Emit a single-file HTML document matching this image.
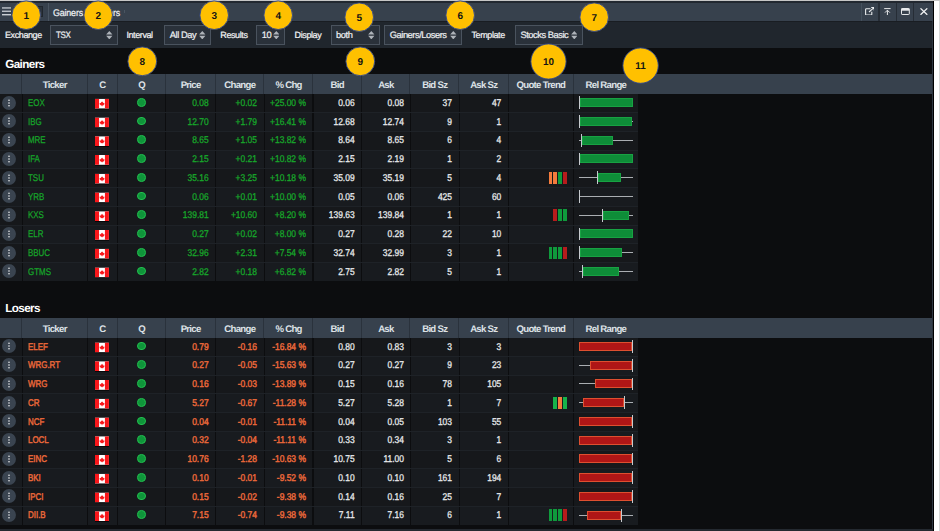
<!DOCTYPE html><html><head><meta charset="utf-8"><title>Gainers / Losers</title><style>
*{box-sizing:border-box;margin:0;padding:0}
html,body{width:940px;height:531px;overflow:hidden}
body{position:relative;text-rendering:geometricPrecision;-webkit-text-stroke:0.22px;background:#0c0d0f;font-family:"Liberation Sans",sans-serif;font-size:9px;color:#e6e8ea}
div{position:absolute}
.topline{left:0;top:0;width:940px;height:1px;background:#c6c6c6}
.white{left:933.9px;top:1px;width:6.1px;height:530px;background:#fff;border-right:1.9px solid #d9d9d9}
.blk{left:932.9px;top:1px;width:1px;height:530px;background:#000}
.tbar{left:0;top:1px;width:933px;height:19.7px;background:#37414d}
.tbar2{left:0;top:1px;width:933px;height:1.6px;background:#222830}
.tool{left:0;top:20.7px;width:932px;height:27.2px;background:#20262d;border-top:0.9px solid #191d22}
.redge{left:931.8px;top:20.7px;width:1.2px;height:511px;background:#2e3640}
.bband{left:0;top:528.6px;width:933px;height:2.4px;background:#242930}
.lbl{top:25.4px;height:20px;line-height:20px;color:#f2f3f4;white-space:nowrap;letter-spacing:-0.4px;font-size:9px}
.sel{top:25px;height:19.9px;border:1px solid #4a535e;background:#2a313a;line-height:19.6px;color:#eceef0;white-space:nowrap;letter-spacing:-0.45px;font-size:9.3px;padding-left:4.6px}
.sel svg{position:absolute;right:4.4px;top:4.8px;width:6.6px;height:8.4px}
.sec{-webkit-text-stroke:0;left:5.2px;font-weight:bold;font-size:11.7px;letter-spacing:-0.6px;color:#fff;white-space:nowrap;height:14px;line-height:14px}
.hdr{left:0;width:931.9px;background:#37414d}
.hs{width:1px;background:#2a323c}
.ht{-webkit-text-stroke:0;text-align:center;color:#dde1e6;font-weight:bold;font-size:9.6px;letter-spacing:-0.7px;white-space:nowrap}
.row{left:0;width:638.4px;height:18.75px}
.cs{width:1.2px;background:#0c0d0f}
.rs{left:0;width:638.4px;height:1px;background:#1e2227}
.mb{width:14.2px;height:14.2px;border-radius:50%;background:#3a4450}
.mb i{position:absolute;left:6.4px;width:1.4px;height:1.4px;background:#fff;border-radius:50%}
.mb i:nth-child(1){top:3.5px}.mb i:nth-child(2){top:6.4px}.mb i:nth-child(3){top:9.3px}
.tk{height:18.75px;line-height:19.1px;white-space:nowrap;font-size:9.8px;-webkit-text-stroke:0.25px;transform:scaleX(0.81);transform-origin:0 0}
.mbs{position:absolute;width:16px;height:16px}
.flw{width:13.9px;height:9.8px;box-shadow:0 0.7px 0 rgba(0,0,0,0.8)}
.fl{display:block;width:13.9px;height:9.8px}
.dot{width:8.6px;height:8.6px;border-radius:50%;background:#0f953a;border:1px solid #22bf4f}
.num{height:18.75px;line-height:19.1px;text-align:right;white-space:nowrap;font-size:9.8px;-webkit-text-stroke:0.3px;transform:scaleX(0.86);transform-origin:100% 0}
.lz{-webkit-text-stroke:0.45px}
.qt{width:3.7px;height:12.4px}
.ln{left:579px;width:53.7px;height:1px;background:#aaaeb2}
.tick{width:1px;height:12.6px;background:#c6cace}
.brg{height:9px;background:#0e8d38;border:1px solid #18a243}
.brl{height:9px;background:#b01616;border:1px solid #de4f30}
.ycs{position:absolute;overflow:visible}
.ti{top:1px;height:19.7px}
.tsep{top:2.8px;width:1.2px;height:17.9px;background:#262d36}
</style></head><body>
<div class="tbar"></div><div class="tbar2"></div><div class="tool"></div>
<svg style="position:absolute;left:1.9px;top:7.3px;width:9.2px;height:8.8px" viewBox="0 0 92 88"><g fill="#c9ced4"><rect y="3" width="92" height="13"/><rect y="36" width="92" height="13"/><rect y="70" width="92" height="14"/></g></svg>
<div style="left:32px;top:5.7px;width:10.6px;height:11.8px;border:1.2px solid #20262d;background:#2b333d"></div>
<div style="left:47.6px;top:2.8px;width:1px;height:17.9px;background:#4a5561"></div>
<div style="left:53.4px;top:3.6px;height:19.7px;line-height:19.7px;font-size:9.6px;letter-spacing:-0.2px;word-spacing:2.4px;transform:scaleX(0.93);transform-origin:0 0;color:#eef0f2;white-space:nowrap">Gainers / Losers</div>
<div style="left:124.2px;top:10.4px;width:1px;height:2.6px;background:#4a5561"></div>
<div style="left:860.6px;top:2.8px;width:1px;height:17.9px;background:#44505c"></div>
<div class="tsep" style="left:878.4px"></div>
<div class="tsep" style="left:896.3px"></div>
<div class="tsep" style="left:913.0px"></div>
<svg style="position:absolute;left:864.6px;top:6.8px;width:9.8px;height:8.6px" viewBox="0 0 98 86" fill="none" stroke="#e8eaec" stroke-width="11"><path d="M55 18H14q-8 0-8 8v46q0 8 8 8h46q8 0 8-8V48"/><path d="M40 50L90 6M62 5h30v30" stroke-linejoin="miter"/></svg>
<svg style="position:absolute;left:884.4px;top:7.7px;width:6.8px;height:7.4px" viewBox="0 0 68 74" fill="none" stroke="#e8eaec" stroke-width="10"><path d="M2 6h64M34 74V24M10 46l24-24 24 24"/></svg>
<svg style="position:absolute;left:901.2px;top:7.8px;width:8.8px;height:7px" viewBox="0 0 88 70" fill="none" stroke="#e8eaec"><rect x="5" y="5" width="78" height="60" rx="6" stroke-width="10"/><path d="M5 16h78" stroke-width="22"/></svg>
<svg style="position:absolute;left:919.8px;top:7.9px;width:7.8px;height:7.2px" viewBox="0 0 78 72" fill="none" stroke="#f2f3f4" stroke-width="13"><path d="M5 4l68 64M73 4L5 68"/></svg>
<div class="lbl" style="left:5px">Exchange</div>
<div class="sel" style="left:50.1px;width:67.8px"><span style="display:inline-block;transform:scaleX(0.86);transform-origin:0 50%">TSX</span><svg viewBox="0 0 60 80"><path fill="#aeb3b9" d="M30 0L60 34H0zM30 80L0 46h60z"/></svg></div>
<div class="lbl" style="left:126.4px">Interval</div>
<div class="sel" style="left:164.2px;width:46.9px">All Day<svg viewBox="0 0 60 80"><path fill="#aeb3b9" d="M30 0L60 34H0zM30 80L0 46h60z"/></svg></div>
<div class="lbl" style="left:220.3px">Results</div>
<div class="sel" style="left:256.2px;width:28.7px">10<svg viewBox="0 0 60 80"><path fill="#aeb3b9" d="M30 0L60 34H0zM30 80L0 46h60z"/></svg></div>
<div class="lbl" style="left:294.6px">Display</div>
<div class="sel" style="left:330.5px;width:49.5px">both<svg viewBox="0 0 60 80"><path fill="#aeb3b9" d="M30 0L60 34H0zM30 80L0 46h60z"/></svg></div>
<div class="sel" style="left:384.2px;width:77.9px">Gainers/Losers<svg viewBox="0 0 60 80"><path fill="#aeb3b9" d="M30 0L60 34H0zM30 80L0 46h60z"/></svg></div>
<div class="lbl" style="left:471.5px">Template</div>
<div class="sel" style="left:514.9px;width:67.8px">Stocks Basic<svg viewBox="0 0 60 80"><path fill="#aeb3b9" d="M30 0L60 34H0zM30 80L0 46h60z"/></svg></div>
<div class="sec" style="top:58px">Gainers</div>
<div class="hdr" style="top:74px;height:19.9px"></div>
<div class="hs" style="left:21.2px;top:74px;height:19.9px"></div>
<div class="ht" style="left:22.1px;width:65.3px;top:75.8px;height:19.9px;line-height:19.9px">Ticker</div>
<div class="hs" style="left:86.5px;top:74px;height:19.9px"></div>
<div class="ht" style="left:87.4px;width:30.1px;top:75.8px;height:19.9px;line-height:19.9px">C</div>
<div class="hs" style="left:116.6px;top:74px;height:19.9px"></div>
<div class="ht" style="left:117.5px;width:48.4px;top:75.8px;height:19.9px;line-height:19.9px">Q</div>
<div class="hs" style="left:165px;top:74px;height:19.9px"></div>
<div class="ht" style="left:165.9px;width:49.5px;top:75.8px;height:19.9px;line-height:19.9px">Price</div>
<div class="hs" style="left:214.5px;top:74px;height:19.9px"></div>
<div class="ht" style="left:215.4px;width:48.8px;top:75.8px;height:19.9px;line-height:19.9px">Change</div>
<div class="hs" style="left:263.3px;top:74px;height:19.9px"></div>
<div class="ht" style="left:264.2px;width:48.8px;top:75.8px;height:19.9px;line-height:19.9px">% Chg</div>
<div class="hs" style="left:312.1px;top:74px;height:19.9px"></div>
<div class="ht" style="left:313px;width:48.5px;top:75.8px;height:19.9px;line-height:19.9px">Bid</div>
<div class="hs" style="left:360.6px;top:74px;height:19.9px"></div>
<div class="ht" style="left:361.5px;width:48.8px;top:75.8px;height:19.9px;line-height:19.9px">Ask</div>
<div class="hs" style="left:409.4px;top:74px;height:19.9px"></div>
<div class="ht" style="left:410.3px;width:48.9px;top:75.8px;height:19.9px;line-height:19.9px">Bid Sz</div>
<div class="hs" style="left:458.3px;top:74px;height:19.9px"></div>
<div class="ht" style="left:459.2px;width:49.2px;top:75.8px;height:19.9px;line-height:19.9px">Ask Sz</div>
<div class="hs" style="left:507.5px;top:74px;height:19.9px"></div>
<div class="ht" style="left:508.4px;width:65px;top:75.8px;height:19.9px;line-height:19.9px">Quote Trend</div>
<div class="hs" style="left:572.5px;top:74px;height:19.9px"></div>
<div class="ht" style="left:573.4px;width:65px;top:75.8px;height:19.9px;line-height:19.9px">Rel Range</div>
<div class="row" style="top:93.75px;background:#16181b"></div>
<svg class="mbs" style="left:1.4px;top:94.72px" viewBox="0 0 16 16"><circle cx="8" cy="8" r="6.95" fill="#3a4450"/><g fill="#fff"><circle cx="8" cy="5.2" r="0.75"/><circle cx="8" cy="8" r="0.75"/><circle cx="8" cy="10.8" r="0.75"/></g></svg>
<div class="tk" style="left:27.7px;top:93.75px;color:#16a62a">EOX</div>
<div class="flw" style="left:0;top:0;transform:translate(95px,98.72px)"><svg class="fl" viewBox="0 0 28 20" preserveAspectRatio="none"><rect width="28" height="20" fill="#fff"/><rect width="8.2" height="20" fill="#f8161a"/><rect x="20" width="8" height="20" fill="#f8161a"/><path fill="#f8161a" transform="translate(14.2 10.8) scale(0.8 0.78) translate(-14 -10.5)" d="M14 3.2l1.4 2.7 1.5-.7-.6 3.6 1.7-1.8.4 1 2-.3-.9 2.8.8.5-3.4 2.8.4 1.3-3-.5v3.2h-.6v-3.2l-3 .5.4-1.3L7.700 11l.8-.5-.9-2.8 2 .3.4-1 1.700 1.800-.6-3.600 1.500.7z"/></svg></div>
<div class="dot" style="left:137.2px;top:97.92px"></div>
<div class="num" style="left:165.9px;width:42.6px;top:93.75px;color:#16a62a">0.08</div>
<div class="num" style="left:215.4px;width:41.9px;top:93.75px;color:#16a62a">+0.02</div>
<div class="num" style="left:264.2px;width:41.9px;top:93.75px;color:#16a62a">+25.00 %</div>
<div class="num" style="left:313px;width:41.6px;top:93.75px;color:#e6e8ea">0.06</div>
<div class="num" style="left:361.5px;width:41.9px;top:93.75px;color:#e6e8ea">0.08</div>
<div class="num" style="left:410.3px;width:42px;top:93.75px;color:#e6e8ea">37</div>
<div class="num" style="left:459.2px;width:42.3px;top:93.75px;color:#e6e8ea">47</div>
<div class="brg" style="left:579.6px;width:53.1px;top:98.22px"></div>
<div class="tick" style="left:578.5px;top:96.42px"></div>
<div class="row" style="top:112.5px;background:#181b1f"></div>
<svg class="mbs" style="left:1.4px;top:113.47px" viewBox="0 0 16 16"><circle cx="8" cy="8" r="6.95" fill="#3a4450"/><g fill="#fff"><circle cx="8" cy="5.2" r="0.75"/><circle cx="8" cy="8" r="0.75"/><circle cx="8" cy="10.8" r="0.75"/></g></svg>
<div class="tk" style="left:27.7px;top:112.5px;color:#16a62a">IBG</div>
<div class="flw" style="left:0;top:0;transform:translate(95px,117.47px)"><svg class="fl" viewBox="0 0 28 20" preserveAspectRatio="none"><rect width="28" height="20" fill="#fff"/><rect width="8.2" height="20" fill="#f8161a"/><rect x="20" width="8" height="20" fill="#f8161a"/><path fill="#f8161a" transform="translate(14.2 10.8) scale(0.8 0.78) translate(-14 -10.5)" d="M14 3.2l1.4 2.7 1.5-.7-.6 3.6 1.7-1.8.4 1 2-.3-.9 2.8.8.5-3.4 2.8.4 1.3-3-.5v3.2h-.6v-3.2l-3 .5.4-1.3L7.700 11l.8-.5-.9-2.8 2 .3.4-1 1.700 1.800-.6-3.600 1.500.7z"/></svg></div>
<div class="dot" style="left:137.2px;top:116.67px"></div>
<div class="num" style="left:165.9px;width:42.6px;top:112.5px;color:#16a62a">12.70</div>
<div class="num" style="left:215.4px;width:41.9px;top:112.5px;color:#16a62a">+1.79</div>
<div class="num" style="left:264.2px;width:41.9px;top:112.5px;color:#16a62a">+16.41 %</div>
<div class="num" style="left:313px;width:41.6px;top:112.5px;color:#e6e8ea">12.68</div>
<div class="num" style="left:361.5px;width:41.9px;top:112.5px;color:#e6e8ea">12.74</div>
<div class="num" style="left:410.3px;width:42px;top:112.5px;color:#e6e8ea">9</div>
<div class="num" style="left:459.2px;width:42.3px;top:112.5px;color:#e6e8ea">1</div>
<div class="ln" style="top:120.97px"></div>
<div class="brg" style="left:579.6px;width:52.6px;top:116.97px"></div>
<div class="tick" style="left:578.5px;top:115.17px"></div>
<div class="row" style="top:131.25px;background:#16181b"></div>
<svg class="mbs" style="left:1.4px;top:132.22px" viewBox="0 0 16 16"><circle cx="8" cy="8" r="6.95" fill="#3a4450"/><g fill="#fff"><circle cx="8" cy="5.2" r="0.75"/><circle cx="8" cy="8" r="0.75"/><circle cx="8" cy="10.8" r="0.75"/></g></svg>
<div class="tk" style="left:27.7px;top:131.25px;color:#16a62a">MRE</div>
<div class="flw" style="left:0;top:0;transform:translate(95px,136.22px)"><svg class="fl" viewBox="0 0 28 20" preserveAspectRatio="none"><rect width="28" height="20" fill="#fff"/><rect width="8.2" height="20" fill="#f8161a"/><rect x="20" width="8" height="20" fill="#f8161a"/><path fill="#f8161a" transform="translate(14.2 10.8) scale(0.8 0.78) translate(-14 -10.5)" d="M14 3.2l1.4 2.7 1.5-.7-.6 3.6 1.7-1.8.4 1 2-.3-.9 2.8.8.5-3.4 2.8.4 1.3-3-.5v3.2h-.6v-3.2l-3 .5.4-1.3L7.700 11l.8-.5-.9-2.8 2 .3.4-1 1.700 1.800-.6-3.600 1.500.7z"/></svg></div>
<div class="dot" style="left:137.2px;top:135.42px"></div>
<div class="num" style="left:165.9px;width:42.6px;top:131.25px;color:#16a62a">8.65</div>
<div class="num" style="left:215.4px;width:41.9px;top:131.25px;color:#16a62a">+1.05</div>
<div class="num" style="left:264.2px;width:41.9px;top:131.25px;color:#16a62a">+13.82 %</div>
<div class="num" style="left:313px;width:41.6px;top:131.25px;color:#e6e8ea">8.64</div>
<div class="num" style="left:361.5px;width:41.9px;top:131.25px;color:#e6e8ea">8.65</div>
<div class="num" style="left:410.3px;width:42px;top:131.25px;color:#e6e8ea">6</div>
<div class="num" style="left:459.2px;width:42.3px;top:131.25px;color:#e6e8ea">4</div>
<div class="ln" style="top:139.72px"></div>
<div class="brg" style="left:581.8px;width:31.2px;top:135.72px"></div>
<div class="tick" style="left:580.5px;top:133.92px"></div>
<div class="row" style="top:150px;background:#181b1f"></div>
<svg class="mbs" style="left:1.4px;top:150.97px" viewBox="0 0 16 16"><circle cx="8" cy="8" r="6.95" fill="#3a4450"/><g fill="#fff"><circle cx="8" cy="5.2" r="0.75"/><circle cx="8" cy="8" r="0.75"/><circle cx="8" cy="10.8" r="0.75"/></g></svg>
<div class="tk" style="left:27.7px;top:150px;color:#16a62a">IFA</div>
<div class="flw" style="left:0;top:0;transform:translate(95px,154.97px)"><svg class="fl" viewBox="0 0 28 20" preserveAspectRatio="none"><rect width="28" height="20" fill="#fff"/><rect width="8.2" height="20" fill="#f8161a"/><rect x="20" width="8" height="20" fill="#f8161a"/><path fill="#f8161a" transform="translate(14.2 10.8) scale(0.8 0.78) translate(-14 -10.5)" d="M14 3.2l1.4 2.7 1.5-.7-.6 3.6 1.7-1.8.4 1 2-.3-.9 2.8.8.5-3.4 2.8.4 1.3-3-.5v3.2h-.6v-3.2l-3 .5.4-1.3L7.700 11l.8-.5-.9-2.8 2 .3.4-1 1.700 1.800-.6-3.600 1.500.7z"/></svg></div>
<div class="dot" style="left:137.2px;top:154.17px"></div>
<div class="num" style="left:165.9px;width:42.6px;top:150px;color:#16a62a">2.15</div>
<div class="num" style="left:215.4px;width:41.9px;top:150px;color:#16a62a">+0.21</div>
<div class="num" style="left:264.2px;width:41.9px;top:150px;color:#16a62a">+10.82 %</div>
<div class="num" style="left:313px;width:41.6px;top:150px;color:#e6e8ea">2.15</div>
<div class="num" style="left:361.5px;width:41.9px;top:150px;color:#e6e8ea">2.19</div>
<div class="num" style="left:410.3px;width:42px;top:150px;color:#e6e8ea">1</div>
<div class="num" style="left:459.2px;width:42.3px;top:150px;color:#e6e8ea">2</div>
<div class="brg" style="left:579.6px;width:53.1px;top:154.47px"></div>
<div class="tick" style="left:578.5px;top:152.67px"></div>
<div class="row" style="top:168.75px;background:#16181b"></div>
<svg class="mbs" style="left:1.4px;top:169.72px" viewBox="0 0 16 16"><circle cx="8" cy="8" r="6.95" fill="#3a4450"/><g fill="#fff"><circle cx="8" cy="5.2" r="0.75"/><circle cx="8" cy="8" r="0.75"/><circle cx="8" cy="10.8" r="0.75"/></g></svg>
<div class="tk" style="left:27.7px;top:168.75px;color:#16a62a">TSU</div>
<div class="flw" style="left:0;top:0;transform:translate(95px,173.72px)"><svg class="fl" viewBox="0 0 28 20" preserveAspectRatio="none"><rect width="28" height="20" fill="#fff"/><rect width="8.2" height="20" fill="#f8161a"/><rect x="20" width="8" height="20" fill="#f8161a"/><path fill="#f8161a" transform="translate(14.2 10.8) scale(0.8 0.78) translate(-14 -10.5)" d="M14 3.2l1.4 2.7 1.5-.7-.6 3.6 1.7-1.8.4 1 2-.3-.9 2.8.8.5-3.4 2.8.4 1.3-3-.5v3.2h-.6v-3.2l-3 .5.4-1.3L7.700 11l.8-.5-.9-2.8 2 .3.4-1 1.700 1.800-.6-3.600 1.500.7z"/></svg></div>
<div class="dot" style="left:137.2px;top:172.92px"></div>
<div class="num" style="left:165.9px;width:42.6px;top:168.75px;color:#16a62a">35.16</div>
<div class="num" style="left:215.4px;width:41.9px;top:168.75px;color:#16a62a">+3.25</div>
<div class="num" style="left:264.2px;width:41.9px;top:168.75px;color:#16a62a">+10.18 %</div>
<div class="num" style="left:313px;width:41.6px;top:168.75px;color:#e6e8ea">35.09</div>
<div class="num" style="left:361.5px;width:41.9px;top:168.75px;color:#e6e8ea">35.19</div>
<div class="num" style="left:410.3px;width:42px;top:168.75px;color:#e6e8ea">5</div>
<div class="num" style="left:459.2px;width:42.3px;top:168.75px;color:#e6e8ea">4</div>
<div class="qt" style="left:548.5px;top:171.53px;background:#f47b3c"></div>
<div class="qt" style="left:553.4px;top:171.53px;background:#f47b3c"></div>
<div class="qt" style="left:558.2px;top:171.53px;background:#0f9a3c"></div>
<div class="qt" style="left:563.1px;top:171.53px;background:#b71c1c"></div>
<div class="ln" style="top:177.22px"></div>
<div class="brg" style="left:598.2px;width:22.8px;top:173.22px"></div>
<div class="tick" style="left:596.8px;top:171.42px"></div>
<div class="row" style="top:187.5px;background:#181b1f"></div>
<svg class="mbs" style="left:1.4px;top:188.47px" viewBox="0 0 16 16"><circle cx="8" cy="8" r="6.95" fill="#3a4450"/><g fill="#fff"><circle cx="8" cy="5.2" r="0.75"/><circle cx="8" cy="8" r="0.75"/><circle cx="8" cy="10.8" r="0.75"/></g></svg>
<div class="tk" style="left:27.7px;top:187.5px;color:#16a62a">YRB</div>
<div class="flw" style="left:0;top:0;transform:translate(95px,192.47px)"><svg class="fl" viewBox="0 0 28 20" preserveAspectRatio="none"><rect width="28" height="20" fill="#fff"/><rect width="8.2" height="20" fill="#f8161a"/><rect x="20" width="8" height="20" fill="#f8161a"/><path fill="#f8161a" transform="translate(14.2 10.8) scale(0.8 0.78) translate(-14 -10.5)" d="M14 3.2l1.4 2.7 1.5-.7-.6 3.6 1.7-1.8.4 1 2-.3-.9 2.8.8.5-3.4 2.8.4 1.3-3-.5v3.2h-.6v-3.2l-3 .5.4-1.3L7.700 11l.8-.5-.9-2.8 2 .3.4-1 1.700 1.800-.6-3.600 1.500.7z"/></svg></div>
<div class="dot" style="left:137.2px;top:191.67px"></div>
<div class="num" style="left:165.9px;width:42.6px;top:187.5px;color:#16a62a">0.06</div>
<div class="num" style="left:215.4px;width:41.9px;top:187.5px;color:#16a62a">+0.01</div>
<div class="num" style="left:264.2px;width:41.9px;top:187.5px;color:#16a62a">+10.00 %</div>
<div class="num" style="left:313px;width:41.6px;top:187.5px;color:#e6e8ea">0.05</div>
<div class="num" style="left:361.5px;width:41.9px;top:187.5px;color:#e6e8ea">0.06</div>
<div class="num" style="left:410.3px;width:42px;top:187.5px;color:#e6e8ea">425</div>
<div class="num" style="left:459.2px;width:42.3px;top:187.5px;color:#e6e8ea">60</div>
<div class="ln" style="top:195.97px"></div>
<div class="tick" style="left:578.5px;top:190.17px"></div>
<div class="row" style="top:206.25px;background:#16181b"></div>
<svg class="mbs" style="left:1.4px;top:207.22px" viewBox="0 0 16 16"><circle cx="8" cy="8" r="6.95" fill="#3a4450"/><g fill="#fff"><circle cx="8" cy="5.2" r="0.75"/><circle cx="8" cy="8" r="0.75"/><circle cx="8" cy="10.8" r="0.75"/></g></svg>
<div class="tk" style="left:27.7px;top:206.25px;color:#16a62a">KXS</div>
<div class="flw" style="left:0;top:0;transform:translate(95px,211.22px)"><svg class="fl" viewBox="0 0 28 20" preserveAspectRatio="none"><rect width="28" height="20" fill="#fff"/><rect width="8.2" height="20" fill="#f8161a"/><rect x="20" width="8" height="20" fill="#f8161a"/><path fill="#f8161a" transform="translate(14.2 10.8) scale(0.8 0.78) translate(-14 -10.5)" d="M14 3.2l1.4 2.7 1.5-.7-.6 3.6 1.7-1.8.4 1 2-.3-.9 2.8.8.5-3.4 2.8.4 1.3-3-.5v3.2h-.6v-3.2l-3 .5.4-1.3L7.700 11l.8-.5-.9-2.8 2 .3.4-1 1.700 1.800-.6-3.600 1.500.7z"/></svg></div>
<div class="dot" style="left:137.2px;top:210.42px"></div>
<div class="num" style="left:165.9px;width:42.6px;top:206.25px;color:#16a62a">139.81</div>
<div class="num" style="left:215.4px;width:41.9px;top:206.25px;color:#16a62a">+10.60</div>
<div class="num" style="left:264.2px;width:41.9px;top:206.25px;color:#16a62a">+8.20 %</div>
<div class="num" style="left:313px;width:41.6px;top:206.25px;color:#e6e8ea">139.63</div>
<div class="num" style="left:361.5px;width:41.9px;top:206.25px;color:#e6e8ea">139.84</div>
<div class="num" style="left:410.3px;width:42px;top:206.25px;color:#e6e8ea">1</div>
<div class="num" style="left:459.2px;width:42.3px;top:206.25px;color:#e6e8ea">1</div>
<div class="qt" style="left:553.4px;top:209.03px;background:#b71c1c"></div>
<div class="qt" style="left:558.2px;top:209.03px;background:#0f9a3c"></div>
<div class="qt" style="left:563.1px;top:209.03px;background:#0f9a3c"></div>
<div class="ln" style="top:214.72px"></div>
<div class="brg" style="left:603.1px;width:26.4px;top:210.72px"></div>
<div class="tick" style="left:601.7px;top:208.92px"></div>
<div class="row" style="top:225px;background:#181b1f"></div>
<svg class="mbs" style="left:1.4px;top:225.97px" viewBox="0 0 16 16"><circle cx="8" cy="8" r="6.95" fill="#3a4450"/><g fill="#fff"><circle cx="8" cy="5.2" r="0.75"/><circle cx="8" cy="8" r="0.75"/><circle cx="8" cy="10.8" r="0.75"/></g></svg>
<div class="tk" style="left:27.7px;top:225px;color:#16a62a">ELR</div>
<div class="flw" style="left:0;top:0;transform:translate(95px,229.97px)"><svg class="fl" viewBox="0 0 28 20" preserveAspectRatio="none"><rect width="28" height="20" fill="#fff"/><rect width="8.2" height="20" fill="#f8161a"/><rect x="20" width="8" height="20" fill="#f8161a"/><path fill="#f8161a" transform="translate(14.2 10.8) scale(0.8 0.78) translate(-14 -10.5)" d="M14 3.2l1.4 2.7 1.5-.7-.6 3.6 1.7-1.8.4 1 2-.3-.9 2.8.8.5-3.4 2.8.4 1.3-3-.5v3.2h-.6v-3.2l-3 .5.4-1.3L7.700 11l.8-.5-.9-2.8 2 .3.4-1 1.700 1.800-.6-3.600 1.500.7z"/></svg></div>
<div class="dot" style="left:137.2px;top:229.17px"></div>
<div class="num" style="left:165.9px;width:42.6px;top:225px;color:#16a62a">0.27</div>
<div class="num" style="left:215.4px;width:41.9px;top:225px;color:#16a62a">+0.02</div>
<div class="num" style="left:264.2px;width:41.9px;top:225px;color:#16a62a">+8.00 %</div>
<div class="num" style="left:313px;width:41.6px;top:225px;color:#e6e8ea">0.27</div>
<div class="num" style="left:361.5px;width:41.9px;top:225px;color:#e6e8ea">0.28</div>
<div class="num" style="left:410.3px;width:42px;top:225px;color:#e6e8ea">22</div>
<div class="num" style="left:459.2px;width:42.3px;top:225px;color:#e6e8ea">10</div>
<div class="brg" style="left:579.6px;width:53.1px;top:229.47px"></div>
<div class="tick" style="left:578.5px;top:227.67px"></div>
<div class="row" style="top:243.75px;background:#16181b"></div>
<svg class="mbs" style="left:1.4px;top:244.72px" viewBox="0 0 16 16"><circle cx="8" cy="8" r="6.95" fill="#3a4450"/><g fill="#fff"><circle cx="8" cy="5.2" r="0.75"/><circle cx="8" cy="8" r="0.75"/><circle cx="8" cy="10.8" r="0.75"/></g></svg>
<div class="tk" style="left:27.7px;top:243.75px;color:#16a62a">BBUC</div>
<div class="flw" style="left:0;top:0;transform:translate(95px,248.72px)"><svg class="fl" viewBox="0 0 28 20" preserveAspectRatio="none"><rect width="28" height="20" fill="#fff"/><rect width="8.2" height="20" fill="#f8161a"/><rect x="20" width="8" height="20" fill="#f8161a"/><path fill="#f8161a" transform="translate(14.2 10.8) scale(0.8 0.78) translate(-14 -10.5)" d="M14 3.2l1.4 2.7 1.5-.7-.6 3.6 1.7-1.8.4 1 2-.3-.9 2.8.8.5-3.4 2.8.4 1.3-3-.5v3.2h-.6v-3.2l-3 .5.4-1.3L7.700 11l.8-.5-.9-2.8 2 .3.4-1 1.700 1.800-.6-3.600 1.500.7z"/></svg></div>
<div class="dot" style="left:137.2px;top:247.92px"></div>
<div class="num" style="left:165.9px;width:42.6px;top:243.75px;color:#16a62a">32.96</div>
<div class="num" style="left:215.4px;width:41.9px;top:243.75px;color:#16a62a">+2.31</div>
<div class="num" style="left:264.2px;width:41.9px;top:243.75px;color:#16a62a">+7.54 %</div>
<div class="num" style="left:313px;width:41.6px;top:243.75px;color:#e6e8ea">32.74</div>
<div class="num" style="left:361.5px;width:41.9px;top:243.75px;color:#e6e8ea">32.99</div>
<div class="num" style="left:410.3px;width:42px;top:243.75px;color:#e6e8ea">3</div>
<div class="num" style="left:459.2px;width:42.3px;top:243.75px;color:#e6e8ea">1</div>
<div class="qt" style="left:548.5px;top:246.53px;background:#0f9a3c"></div>
<div class="qt" style="left:553.4px;top:246.53px;background:#0f9a3c"></div>
<div class="qt" style="left:558.2px;top:246.53px;background:#0f9a3c"></div>
<div class="qt" style="left:563.1px;top:246.53px;background:#b71c1c"></div>
<div class="ln" style="top:252.22px"></div>
<div class="brg" style="left:579.6px;width:42.2px;top:248.22px"></div>
<div class="tick" style="left:578.5px;top:246.42px"></div>
<div class="row" style="top:262.5px;background:#181b1f"></div>
<svg class="mbs" style="left:1.4px;top:263.48px" viewBox="0 0 16 16"><circle cx="8" cy="8" r="6.95" fill="#3a4450"/><g fill="#fff"><circle cx="8" cy="5.2" r="0.75"/><circle cx="8" cy="8" r="0.75"/><circle cx="8" cy="10.8" r="0.75"/></g></svg>
<div class="tk" style="left:27.7px;top:262.5px;color:#16a62a">GTMS</div>
<div class="flw" style="left:0;top:0;transform:translate(95px,267.48px)"><svg class="fl" viewBox="0 0 28 20" preserveAspectRatio="none"><rect width="28" height="20" fill="#fff"/><rect width="8.2" height="20" fill="#f8161a"/><rect x="20" width="8" height="20" fill="#f8161a"/><path fill="#f8161a" transform="translate(14.2 10.8) scale(0.8 0.78) translate(-14 -10.5)" d="M14 3.2l1.4 2.7 1.5-.7-.6 3.6 1.7-1.8.4 1 2-.3-.9 2.8.8.5-3.4 2.8.4 1.3-3-.5v3.2h-.6v-3.2l-3 .5.4-1.3L7.700 11l.8-.5-.9-2.8 2 .3.4-1 1.700 1.800-.6-3.600 1.500.7z"/></svg></div>
<div class="dot" style="left:137.2px;top:266.68px"></div>
<div class="num" style="left:165.9px;width:42.6px;top:262.5px;color:#16a62a">2.82</div>
<div class="num" style="left:215.4px;width:41.9px;top:262.5px;color:#16a62a">+0.18</div>
<div class="num" style="left:264.2px;width:41.9px;top:262.5px;color:#16a62a">+6.82 %</div>
<div class="num" style="left:313px;width:41.6px;top:262.5px;color:#e6e8ea">2.75</div>
<div class="num" style="left:361.5px;width:41.9px;top:262.5px;color:#e6e8ea">2.82</div>
<div class="num" style="left:410.3px;width:42px;top:262.5px;color:#e6e8ea">5</div>
<div class="num" style="left:459.2px;width:42.3px;top:262.5px;color:#e6e8ea">1</div>
<div class="ln" style="top:270.98px"></div>
<div class="brg" style="left:583.2px;width:35.8px;top:266.98px"></div>
<div class="tick" style="left:581.7px;top:265.18px"></div>
<div class="cs" style="left:21.5px;top:93.75px;height:187.5px"></div>
<div class="cs" style="left:86.8px;top:93.75px;height:187.5px"></div>
<div class="cs" style="left:116.9px;top:93.75px;height:187.5px"></div>
<div class="cs" style="left:165.3px;top:93.75px;height:187.5px"></div>
<div class="cs" style="left:214.8px;top:93.75px;height:187.5px"></div>
<div class="cs" style="left:263.6px;top:93.75px;height:187.5px"></div>
<div class="cs" style="left:312.4px;top:93.75px;height:187.5px"></div>
<div class="cs" style="left:360.9px;top:93.75px;height:187.5px"></div>
<div class="cs" style="left:409.7px;top:93.75px;height:187.5px"></div>
<div class="cs" style="left:458.6px;top:93.75px;height:187.5px"></div>
<div class="cs" style="left:507.8px;top:93.75px;height:187.5px"></div>
<div class="cs" style="left:572.8px;top:93.75px;height:187.5px"></div>
<div class="cs" style="left:637.8px;top:93.75px;height:187.5px"></div>
<div class="rs" style="top:112px"></div>
<div class="rs" style="top:130.75px"></div>
<div class="rs" style="top:149.5px"></div>
<div class="rs" style="top:168.25px"></div>
<div class="rs" style="top:187px"></div>
<div class="rs" style="top:205.75px"></div>
<div class="rs" style="top:224.5px"></div>
<div class="rs" style="top:243.25px"></div>
<div class="rs" style="top:262px"></div>
<div class="sec" style="top:301.7px">Losers</div>
<div class="hdr" style="top:317.8px;height:19.85px"></div>
<div class="hs" style="left:21.2px;top:317.8px;height:19.85px"></div>
<div class="ht" style="left:22.1px;width:65.3px;top:319.6px;height:19.85px;line-height:19.85px">Ticker</div>
<div class="hs" style="left:86.5px;top:317.8px;height:19.85px"></div>
<div class="ht" style="left:87.4px;width:30.1px;top:319.6px;height:19.85px;line-height:19.85px">C</div>
<div class="hs" style="left:116.6px;top:317.8px;height:19.85px"></div>
<div class="ht" style="left:117.5px;width:48.4px;top:319.6px;height:19.85px;line-height:19.85px">Q</div>
<div class="hs" style="left:165px;top:317.8px;height:19.85px"></div>
<div class="ht" style="left:165.9px;width:49.5px;top:319.6px;height:19.85px;line-height:19.85px">Price</div>
<div class="hs" style="left:214.5px;top:317.8px;height:19.85px"></div>
<div class="ht" style="left:215.4px;width:48.8px;top:319.6px;height:19.85px;line-height:19.85px">Change</div>
<div class="hs" style="left:263.3px;top:317.8px;height:19.85px"></div>
<div class="ht" style="left:264.2px;width:48.8px;top:319.6px;height:19.85px;line-height:19.85px">% Chg</div>
<div class="hs" style="left:312.1px;top:317.8px;height:19.85px"></div>
<div class="ht" style="left:313px;width:48.5px;top:319.6px;height:19.85px;line-height:19.85px">Bid</div>
<div class="hs" style="left:360.6px;top:317.8px;height:19.85px"></div>
<div class="ht" style="left:361.5px;width:48.8px;top:319.6px;height:19.85px;line-height:19.85px">Ask</div>
<div class="hs" style="left:409.4px;top:317.8px;height:19.85px"></div>
<div class="ht" style="left:410.3px;width:48.9px;top:319.6px;height:19.85px;line-height:19.85px">Bid Sz</div>
<div class="hs" style="left:458.3px;top:317.8px;height:19.85px"></div>
<div class="ht" style="left:459.2px;width:49.2px;top:319.6px;height:19.85px;line-height:19.85px">Ask Sz</div>
<div class="hs" style="left:507.5px;top:317.8px;height:19.85px"></div>
<div class="ht" style="left:508.4px;width:65px;top:319.6px;height:19.85px;line-height:19.85px">Quote Trend</div>
<div class="hs" style="left:572.5px;top:317.8px;height:19.85px"></div>
<div class="ht" style="left:573.4px;width:65px;top:319.6px;height:19.85px;line-height:19.85px">Rel Range</div>
<div class="row" style="top:337.5px;background:#16181b"></div>
<svg class="mbs" style="left:1.4px;top:338.48px" viewBox="0 0 16 16"><circle cx="8" cy="8" r="6.95" fill="#3a4450"/><g fill="#fff"><circle cx="8" cy="5.2" r="0.75"/><circle cx="8" cy="8" r="0.75"/><circle cx="8" cy="10.8" r="0.75"/></g></svg>
<div class="tk lz" style="left:27.7px;top:337.5px;color:#ea683a">ELEF</div>
<div class="flw" style="left:0;top:0;transform:translate(95px,342.48px)"><svg class="fl" viewBox="0 0 28 20" preserveAspectRatio="none"><rect width="28" height="20" fill="#fff"/><rect width="8.2" height="20" fill="#f8161a"/><rect x="20" width="8" height="20" fill="#f8161a"/><path fill="#f8161a" transform="translate(14.2 10.8) scale(0.8 0.78) translate(-14 -10.5)" d="M14 3.2l1.4 2.7 1.5-.7-.6 3.6 1.7-1.8.4 1 2-.3-.9 2.8.8.5-3.4 2.8.4 1.3-3-.5v3.2h-.6v-3.2l-3 .5.4-1.3L7.700 11l.8-.5-.9-2.8 2 .3.4-1 1.700 1.800-.6-3.600 1.500.7z"/></svg></div>
<div class="dot" style="left:137.2px;top:341.68px"></div>
<div class="num lz" style="left:165.9px;width:42.6px;top:337.5px;color:#ea683a">0.79</div>
<div class="num lz" style="left:215.4px;width:41.9px;top:337.5px;color:#ea683a">-0.16</div>
<div class="num lz" style="left:264.2px;width:41.9px;top:337.5px;color:#ea683a">-16.84 %</div>
<div class="num" style="left:313px;width:41.6px;top:337.5px;color:#e6e8ea">0.80</div>
<div class="num" style="left:361.5px;width:41.9px;top:337.5px;color:#e6e8ea">0.83</div>
<div class="num" style="left:410.3px;width:42px;top:337.5px;color:#e6e8ea">3</div>
<div class="num" style="left:459.2px;width:42.3px;top:337.5px;color:#e6e8ea">3</div>
<div class="brl" style="left:579px;width:52.9px;top:341.98px"></div>
<div class="tick" style="left:631.8px;top:340.18px"></div>
<div class="row" style="top:356.25px;background:#181b1f"></div>
<svg class="mbs" style="left:1.4px;top:357.23px" viewBox="0 0 16 16"><circle cx="8" cy="8" r="6.95" fill="#3a4450"/><g fill="#fff"><circle cx="8" cy="5.2" r="0.75"/><circle cx="8" cy="8" r="0.75"/><circle cx="8" cy="10.8" r="0.75"/></g></svg>
<div class="tk lz" style="left:27.7px;top:356.25px;color:#ea683a">WRG.RT</div>
<div class="flw" style="left:0;top:0;transform:translate(95px,361.23px)"><svg class="fl" viewBox="0 0 28 20" preserveAspectRatio="none"><rect width="28" height="20" fill="#fff"/><rect width="8.2" height="20" fill="#f8161a"/><rect x="20" width="8" height="20" fill="#f8161a"/><path fill="#f8161a" transform="translate(14.2 10.8) scale(0.8 0.78) translate(-14 -10.5)" d="M14 3.2l1.4 2.7 1.5-.7-.6 3.6 1.7-1.8.4 1 2-.3-.9 2.8.8.5-3.4 2.8.4 1.3-3-.5v3.2h-.6v-3.2l-3 .5.4-1.3L7.700 11l.8-.5-.9-2.8 2 .3.4-1 1.700 1.800-.6-3.600 1.500.7z"/></svg></div>
<div class="dot" style="left:137.2px;top:360.43px"></div>
<div class="num lz" style="left:165.9px;width:42.6px;top:356.25px;color:#ea683a">0.27</div>
<div class="num lz" style="left:215.4px;width:41.9px;top:356.25px;color:#ea683a">-0.05</div>
<div class="num lz" style="left:264.2px;width:41.9px;top:356.25px;color:#ea683a">-15.63 %</div>
<div class="num" style="left:313px;width:41.6px;top:356.25px;color:#e6e8ea">0.27</div>
<div class="num" style="left:361.5px;width:41.9px;top:356.25px;color:#e6e8ea">0.27</div>
<div class="num" style="left:410.3px;width:42px;top:356.25px;color:#e6e8ea">9</div>
<div class="num" style="left:459.2px;width:42.3px;top:356.25px;color:#e6e8ea">23</div>
<div class="ln" style="top:364.73px"></div>
<div class="brl" style="left:590.3px;width:41.6px;top:360.73px"></div>
<div class="tick" style="left:631.8px;top:358.93px"></div>
<div class="row" style="top:375px;background:#16181b"></div>
<svg class="mbs" style="left:1.4px;top:375.98px" viewBox="0 0 16 16"><circle cx="8" cy="8" r="6.95" fill="#3a4450"/><g fill="#fff"><circle cx="8" cy="5.2" r="0.75"/><circle cx="8" cy="8" r="0.75"/><circle cx="8" cy="10.8" r="0.75"/></g></svg>
<div class="tk lz" style="left:27.7px;top:375px;color:#ea683a">WRG</div>
<div class="flw" style="left:0;top:0;transform:translate(95px,379.98px)"><svg class="fl" viewBox="0 0 28 20" preserveAspectRatio="none"><rect width="28" height="20" fill="#fff"/><rect width="8.2" height="20" fill="#f8161a"/><rect x="20" width="8" height="20" fill="#f8161a"/><path fill="#f8161a" transform="translate(14.2 10.8) scale(0.8 0.78) translate(-14 -10.5)" d="M14 3.2l1.4 2.7 1.5-.7-.6 3.6 1.7-1.8.4 1 2-.3-.9 2.8.8.5-3.4 2.8.4 1.3-3-.5v3.2h-.6v-3.2l-3 .5.4-1.3L7.700 11l.8-.5-.9-2.8 2 .3.4-1 1.700 1.800-.6-3.600 1.500.7z"/></svg></div>
<div class="dot" style="left:137.2px;top:379.18px"></div>
<div class="num lz" style="left:165.9px;width:42.6px;top:375px;color:#ea683a">0.16</div>
<div class="num lz" style="left:215.4px;width:41.9px;top:375px;color:#ea683a">-0.03</div>
<div class="num lz" style="left:264.2px;width:41.9px;top:375px;color:#ea683a">-13.89 %</div>
<div class="num" style="left:313px;width:41.6px;top:375px;color:#e6e8ea">0.15</div>
<div class="num" style="left:361.5px;width:41.9px;top:375px;color:#e6e8ea">0.16</div>
<div class="num" style="left:410.3px;width:42px;top:375px;color:#e6e8ea">78</div>
<div class="num" style="left:459.2px;width:42.3px;top:375px;color:#e6e8ea">105</div>
<div class="ln" style="top:383.48px"></div>
<div class="brl" style="left:595px;width:36.9px;top:379.48px"></div>
<div class="tick" style="left:631.8px;top:377.68px"></div>
<div class="row" style="top:393.75px;background:#181b1f"></div>
<svg class="mbs" style="left:1.4px;top:394.73px" viewBox="0 0 16 16"><circle cx="8" cy="8" r="6.95" fill="#3a4450"/><g fill="#fff"><circle cx="8" cy="5.2" r="0.75"/><circle cx="8" cy="8" r="0.75"/><circle cx="8" cy="10.8" r="0.75"/></g></svg>
<div class="tk lz" style="left:27.7px;top:393.75px;color:#ea683a">CR</div>
<div class="flw" style="left:0;top:0;transform:translate(95px,398.73px)"><svg class="fl" viewBox="0 0 28 20" preserveAspectRatio="none"><rect width="28" height="20" fill="#fff"/><rect width="8.2" height="20" fill="#f8161a"/><rect x="20" width="8" height="20" fill="#f8161a"/><path fill="#f8161a" transform="translate(14.2 10.8) scale(0.8 0.78) translate(-14 -10.5)" d="M14 3.2l1.4 2.7 1.5-.7-.6 3.6 1.7-1.8.4 1 2-.3-.9 2.8.8.5-3.4 2.8.4 1.3-3-.5v3.2h-.6v-3.2l-3 .5.4-1.3L7.700 11l.8-.5-.9-2.8 2 .3.4-1 1.700 1.800-.6-3.600 1.500.7z"/></svg></div>
<div class="dot" style="left:137.2px;top:397.93px"></div>
<div class="num lz" style="left:165.9px;width:42.6px;top:393.75px;color:#ea683a">5.27</div>
<div class="num lz" style="left:215.4px;width:41.9px;top:393.75px;color:#ea683a">-0.67</div>
<div class="num lz" style="left:264.2px;width:41.9px;top:393.75px;color:#ea683a">-11.28 %</div>
<div class="num" style="left:313px;width:41.6px;top:393.75px;color:#e6e8ea">5.27</div>
<div class="num" style="left:361.5px;width:41.9px;top:393.75px;color:#e6e8ea">5.28</div>
<div class="num" style="left:410.3px;width:42px;top:393.75px;color:#e6e8ea">1</div>
<div class="num" style="left:459.2px;width:42.3px;top:393.75px;color:#e6e8ea">7</div>
<div class="qt" style="left:553.4px;top:396.53px;background:#17b34a"></div>
<div class="qt" style="left:558.2px;top:396.53px;background:#f47b3c"></div>
<div class="qt" style="left:563.1px;top:396.53px;background:#17b34a"></div>
<div class="ln" style="top:402.23px"></div>
<div class="brl" style="left:582.8px;width:41.2px;top:398.23px"></div>
<div class="tick" style="left:624px;top:396.43px"></div>
<div class="row" style="top:412.5px;background:#16181b"></div>
<svg class="mbs" style="left:1.4px;top:413.48px" viewBox="0 0 16 16"><circle cx="8" cy="8" r="6.95" fill="#3a4450"/><g fill="#fff"><circle cx="8" cy="5.2" r="0.75"/><circle cx="8" cy="8" r="0.75"/><circle cx="8" cy="10.8" r="0.75"/></g></svg>
<div class="tk lz" style="left:27.7px;top:412.5px;color:#ea683a">NCF</div>
<div class="flw" style="left:0;top:0;transform:translate(95px,417.48px)"><svg class="fl" viewBox="0 0 28 20" preserveAspectRatio="none"><rect width="28" height="20" fill="#fff"/><rect width="8.2" height="20" fill="#f8161a"/><rect x="20" width="8" height="20" fill="#f8161a"/><path fill="#f8161a" transform="translate(14.2 10.8) scale(0.8 0.78) translate(-14 -10.5)" d="M14 3.2l1.4 2.7 1.5-.7-.6 3.6 1.7-1.8.4 1 2-.3-.9 2.8.8.5-3.4 2.8.4 1.3-3-.5v3.2h-.6v-3.2l-3 .5.4-1.3L7.700 11l.8-.5-.9-2.8 2 .3.4-1 1.700 1.800-.6-3.600 1.500.7z"/></svg></div>
<div class="dot" style="left:137.2px;top:416.68px"></div>
<div class="num lz" style="left:165.9px;width:42.6px;top:412.5px;color:#ea683a">0.04</div>
<div class="num lz" style="left:215.4px;width:41.9px;top:412.5px;color:#ea683a">-0.01</div>
<div class="num lz" style="left:264.2px;width:41.9px;top:412.5px;color:#ea683a">-11.11 %</div>
<div class="num" style="left:313px;width:41.6px;top:412.5px;color:#e6e8ea">0.04</div>
<div class="num" style="left:361.5px;width:41.9px;top:412.5px;color:#e6e8ea">0.05</div>
<div class="num" style="left:410.3px;width:42px;top:412.5px;color:#e6e8ea">103</div>
<div class="num" style="left:459.2px;width:42.3px;top:412.5px;color:#e6e8ea">55</div>
<div class="brl" style="left:579px;width:52.9px;top:416.98px"></div>
<div class="tick" style="left:631.8px;top:415.18px"></div>
<div class="row" style="top:431.25px;background:#181b1f"></div>
<svg class="mbs" style="left:1.4px;top:432.23px" viewBox="0 0 16 16"><circle cx="8" cy="8" r="6.95" fill="#3a4450"/><g fill="#fff"><circle cx="8" cy="5.2" r="0.75"/><circle cx="8" cy="8" r="0.75"/><circle cx="8" cy="10.8" r="0.75"/></g></svg>
<div class="tk lz" style="left:27.7px;top:431.25px;color:#ea683a">LOCL</div>
<div class="flw" style="left:0;top:0;transform:translate(95px,436.23px)"><svg class="fl" viewBox="0 0 28 20" preserveAspectRatio="none"><rect width="28" height="20" fill="#fff"/><rect width="8.2" height="20" fill="#f8161a"/><rect x="20" width="8" height="20" fill="#f8161a"/><path fill="#f8161a" transform="translate(14.2 10.8) scale(0.8 0.78) translate(-14 -10.5)" d="M14 3.2l1.4 2.7 1.5-.7-.6 3.6 1.7-1.8.4 1 2-.3-.9 2.8.8.5-3.4 2.8.4 1.3-3-.5v3.2h-.6v-3.2l-3 .5.4-1.3L7.700 11l.8-.5-.9-2.8 2 .3.4-1 1.700 1.800-.6-3.600 1.500.7z"/></svg></div>
<div class="dot" style="left:137.2px;top:435.43px"></div>
<div class="num lz" style="left:165.9px;width:42.6px;top:431.25px;color:#ea683a">0.32</div>
<div class="num lz" style="left:215.4px;width:41.9px;top:431.25px;color:#ea683a">-0.04</div>
<div class="num lz" style="left:264.2px;width:41.9px;top:431.25px;color:#ea683a">-11.11 %</div>
<div class="num" style="left:313px;width:41.6px;top:431.25px;color:#e6e8ea">0.33</div>
<div class="num" style="left:361.5px;width:41.9px;top:431.25px;color:#e6e8ea">0.34</div>
<div class="num" style="left:410.3px;width:42px;top:431.25px;color:#e6e8ea">3</div>
<div class="num" style="left:459.2px;width:42.3px;top:431.25px;color:#e6e8ea">1</div>
<div class="brl" style="left:579px;width:52.9px;top:435.73px"></div>
<div class="tick" style="left:631.8px;top:433.93px"></div>
<div class="row" style="top:450px;background:#16181b"></div>
<svg class="mbs" style="left:1.4px;top:450.98px" viewBox="0 0 16 16"><circle cx="8" cy="8" r="6.95" fill="#3a4450"/><g fill="#fff"><circle cx="8" cy="5.2" r="0.75"/><circle cx="8" cy="8" r="0.75"/><circle cx="8" cy="10.8" r="0.75"/></g></svg>
<div class="tk lz" style="left:27.7px;top:450px;color:#ea683a">EINC</div>
<div class="flw" style="left:0;top:0;transform:translate(95px,454.98px)"><svg class="fl" viewBox="0 0 28 20" preserveAspectRatio="none"><rect width="28" height="20" fill="#fff"/><rect width="8.2" height="20" fill="#f8161a"/><rect x="20" width="8" height="20" fill="#f8161a"/><path fill="#f8161a" transform="translate(14.2 10.8) scale(0.8 0.78) translate(-14 -10.5)" d="M14 3.2l1.4 2.7 1.5-.7-.6 3.6 1.7-1.8.4 1 2-.3-.9 2.8.8.5-3.4 2.8.4 1.3-3-.5v3.2h-.6v-3.2l-3 .5.4-1.3L7.700 11l.8-.5-.9-2.8 2 .3.4-1 1.700 1.800-.6-3.600 1.500.7z"/></svg></div>
<div class="dot" style="left:137.2px;top:454.18px"></div>
<div class="num lz" style="left:165.9px;width:42.6px;top:450px;color:#ea683a">10.76</div>
<div class="num lz" style="left:215.4px;width:41.9px;top:450px;color:#ea683a">-1.28</div>
<div class="num lz" style="left:264.2px;width:41.9px;top:450px;color:#ea683a">-10.63 %</div>
<div class="num" style="left:313px;width:41.6px;top:450px;color:#e6e8ea">10.75</div>
<div class="num" style="left:361.5px;width:41.9px;top:450px;color:#e6e8ea">11.00</div>
<div class="num" style="left:410.3px;width:42px;top:450px;color:#e6e8ea">5</div>
<div class="num" style="left:459.2px;width:42.3px;top:450px;color:#e6e8ea">6</div>
<div class="brl" style="left:579px;width:52.9px;top:454.48px"></div>
<div class="tick" style="left:631.8px;top:452.68px"></div>
<div class="row" style="top:468.75px;background:#181b1f"></div>
<svg class="mbs" style="left:1.4px;top:469.73px" viewBox="0 0 16 16"><circle cx="8" cy="8" r="6.95" fill="#3a4450"/><g fill="#fff"><circle cx="8" cy="5.2" r="0.75"/><circle cx="8" cy="8" r="0.75"/><circle cx="8" cy="10.8" r="0.75"/></g></svg>
<div class="tk lz" style="left:27.7px;top:468.75px;color:#ea683a">BKI</div>
<div class="flw" style="left:0;top:0;transform:translate(95px,473.73px)"><svg class="fl" viewBox="0 0 28 20" preserveAspectRatio="none"><rect width="28" height="20" fill="#fff"/><rect width="8.2" height="20" fill="#f8161a"/><rect x="20" width="8" height="20" fill="#f8161a"/><path fill="#f8161a" transform="translate(14.2 10.8) scale(0.8 0.78) translate(-14 -10.5)" d="M14 3.2l1.4 2.7 1.5-.7-.6 3.6 1.7-1.8.4 1 2-.3-.9 2.8.8.5-3.4 2.8.4 1.3-3-.5v3.2h-.6v-3.2l-3 .5.4-1.3L7.700 11l.8-.5-.9-2.8 2 .3.4-1 1.700 1.800-.6-3.600 1.500.7z"/></svg></div>
<div class="dot" style="left:137.2px;top:472.93px"></div>
<div class="num lz" style="left:165.9px;width:42.6px;top:468.75px;color:#ea683a">0.10</div>
<div class="num lz" style="left:215.4px;width:41.9px;top:468.75px;color:#ea683a">-0.01</div>
<div class="num lz" style="left:264.2px;width:41.9px;top:468.75px;color:#ea683a">-9.52 %</div>
<div class="num" style="left:313px;width:41.6px;top:468.75px;color:#e6e8ea">0.10</div>
<div class="num" style="left:361.5px;width:41.9px;top:468.75px;color:#e6e8ea">0.10</div>
<div class="num" style="left:410.3px;width:42px;top:468.75px;color:#e6e8ea">161</div>
<div class="num" style="left:459.2px;width:42.3px;top:468.75px;color:#e6e8ea">194</div>
<div class="brl" style="left:579px;width:52.9px;top:473.23px"></div>
<div class="tick" style="left:631.8px;top:471.43px"></div>
<div class="row" style="top:487.5px;background:#16181b"></div>
<svg class="mbs" style="left:1.4px;top:488.48px" viewBox="0 0 16 16"><circle cx="8" cy="8" r="6.95" fill="#3a4450"/><g fill="#fff"><circle cx="8" cy="5.2" r="0.75"/><circle cx="8" cy="8" r="0.75"/><circle cx="8" cy="10.8" r="0.75"/></g></svg>
<div class="tk lz" style="left:27.7px;top:487.5px;color:#ea683a">IPCI</div>
<div class="flw" style="left:0;top:0;transform:translate(95px,492.48px)"><svg class="fl" viewBox="0 0 28 20" preserveAspectRatio="none"><rect width="28" height="20" fill="#fff"/><rect width="8.2" height="20" fill="#f8161a"/><rect x="20" width="8" height="20" fill="#f8161a"/><path fill="#f8161a" transform="translate(14.2 10.8) scale(0.8 0.78) translate(-14 -10.5)" d="M14 3.2l1.4 2.7 1.5-.7-.6 3.6 1.7-1.8.4 1 2-.3-.9 2.8.8.5-3.4 2.8.4 1.3-3-.5v3.2h-.6v-3.2l-3 .5.4-1.3L7.700 11l.8-.5-.9-2.8 2 .3.4-1 1.700 1.800-.6-3.600 1.500.7z"/></svg></div>
<div class="dot" style="left:137.2px;top:491.68px"></div>
<div class="num lz" style="left:165.9px;width:42.6px;top:487.5px;color:#ea683a">0.15</div>
<div class="num lz" style="left:215.4px;width:41.9px;top:487.5px;color:#ea683a">-0.02</div>
<div class="num lz" style="left:264.2px;width:41.9px;top:487.5px;color:#ea683a">-9.38 %</div>
<div class="num" style="left:313px;width:41.6px;top:487.5px;color:#e6e8ea">0.14</div>
<div class="num" style="left:361.5px;width:41.9px;top:487.5px;color:#e6e8ea">0.16</div>
<div class="num" style="left:410.3px;width:42px;top:487.5px;color:#e6e8ea">25</div>
<div class="num" style="left:459.2px;width:42.3px;top:487.5px;color:#e6e8ea">7</div>
<div class="brl" style="left:579px;width:52.9px;top:491.98px"></div>
<div class="tick" style="left:631.8px;top:490.18px"></div>
<div class="row" style="top:506.25px;background:#181b1f"></div>
<svg class="mbs" style="left:1.4px;top:507.23px" viewBox="0 0 16 16"><circle cx="8" cy="8" r="6.95" fill="#3a4450"/><g fill="#fff"><circle cx="8" cy="5.2" r="0.75"/><circle cx="8" cy="8" r="0.75"/><circle cx="8" cy="10.8" r="0.75"/></g></svg>
<div class="tk lz" style="left:27.7px;top:506.25px;color:#ea683a">DII.B</div>
<div class="flw" style="left:0;top:0;transform:translate(95px,511.23px)"><svg class="fl" viewBox="0 0 28 20" preserveAspectRatio="none"><rect width="28" height="20" fill="#fff"/><rect width="8.2" height="20" fill="#f8161a"/><rect x="20" width="8" height="20" fill="#f8161a"/><path fill="#f8161a" transform="translate(14.2 10.8) scale(0.8 0.78) translate(-14 -10.5)" d="M14 3.2l1.4 2.7 1.5-.7-.6 3.6 1.7-1.8.4 1 2-.3-.9 2.8.8.5-3.4 2.8.4 1.3-3-.5v3.2h-.6v-3.2l-3 .5.4-1.3L7.700 11l.8-.5-.9-2.8 2 .3.4-1 1.700 1.800-.6-3.600 1.500.7z"/></svg></div>
<div class="dot" style="left:137.2px;top:510.43px"></div>
<div class="num lz" style="left:165.9px;width:42.6px;top:506.25px;color:#ea683a">7.15</div>
<div class="num lz" style="left:215.4px;width:41.9px;top:506.25px;color:#ea683a">-0.74</div>
<div class="num lz" style="left:264.2px;width:41.9px;top:506.25px;color:#ea683a">-9.38 %</div>
<div class="num" style="left:313px;width:41.6px;top:506.25px;color:#e6e8ea">7.11</div>
<div class="num" style="left:361.5px;width:41.9px;top:506.25px;color:#e6e8ea">7.16</div>
<div class="num" style="left:410.3px;width:42px;top:506.25px;color:#e6e8ea">6</div>
<div class="num" style="left:459.2px;width:42.3px;top:506.25px;color:#e6e8ea">1</div>
<div class="qt" style="left:548.5px;top:509.03px;background:#0f9a3c"></div>
<div class="qt" style="left:553.4px;top:509.03px;background:#0f9a3c"></div>
<div class="qt" style="left:558.2px;top:509.03px;background:#0f9a3c"></div>
<div class="qt" style="left:563.1px;top:509.03px;background:#b71c1c"></div>
<div class="ln" style="top:514.73px"></div>
<div class="brl" style="left:587px;width:34.2px;top:510.73px"></div>
<div class="tick" style="left:621.1px;top:508.93px"></div>
<div class="cs" style="left:21.5px;top:337.5px;height:187.5px"></div>
<div class="cs" style="left:86.8px;top:337.5px;height:187.5px"></div>
<div class="cs" style="left:116.9px;top:337.5px;height:187.5px"></div>
<div class="cs" style="left:165.3px;top:337.5px;height:187.5px"></div>
<div class="cs" style="left:214.8px;top:337.5px;height:187.5px"></div>
<div class="cs" style="left:263.6px;top:337.5px;height:187.5px"></div>
<div class="cs" style="left:312.4px;top:337.5px;height:187.5px"></div>
<div class="cs" style="left:360.9px;top:337.5px;height:187.5px"></div>
<div class="cs" style="left:409.7px;top:337.5px;height:187.5px"></div>
<div class="cs" style="left:458.6px;top:337.5px;height:187.5px"></div>
<div class="cs" style="left:507.8px;top:337.5px;height:187.5px"></div>
<div class="cs" style="left:572.8px;top:337.5px;height:187.5px"></div>
<div class="cs" style="left:637.8px;top:337.5px;height:187.5px"></div>
<div class="rs" style="top:355.75px"></div>
<div class="rs" style="top:374.5px"></div>
<div class="rs" style="top:393.25px"></div>
<div class="rs" style="top:412px"></div>
<div class="rs" style="top:430.75px"></div>
<div class="rs" style="top:449.5px"></div>
<div class="rs" style="top:468.25px"></div>
<div class="rs" style="top:487px"></div>
<div class="rs" style="top:505.75px"></div>
<div class="redge"></div><div class="bband"></div><div class="white"></div><div class="blk"></div><div class="topline"></div>
<svg class="ycs" style="left:10.8px;top:-0.2px;width:30.4px;height:30.4px" viewBox="0 0 30.4 30.4"><circle cx="15.2" cy="15.2" r="14.3" fill="#ffc000" stroke="#2c4590" stroke-width="0.9"/><text x="15.2" y="19.1" text-anchor="middle" font-family="Liberation Sans, sans-serif" font-weight="bold" font-size="10" fill="#141414" style="-webkit-text-stroke:0">1</text></svg>
<svg class="ycs" style="left:83.2px;top:-0.1px;width:30.4px;height:30.4px" viewBox="0 0 30.4 30.4"><circle cx="15.2" cy="15.2" r="14.3" fill="#ffc000" stroke="#2c4590" stroke-width="0.9"/><text x="15.2" y="19.1" text-anchor="middle" font-family="Liberation Sans, sans-serif" font-weight="bold" font-size="10" fill="#141414" style="-webkit-text-stroke:0">2</text></svg>
<svg class="ycs" style="left:198.9px;top:-0.1px;width:30.4px;height:30.4px" viewBox="0 0 30.4 30.4"><circle cx="15.2" cy="15.2" r="14.3" fill="#ffc000" stroke="#2c4590" stroke-width="0.9"/><text x="15.2" y="19.1" text-anchor="middle" font-family="Liberation Sans, sans-serif" font-weight="bold" font-size="10" fill="#141414" style="-webkit-text-stroke:0">3</text></svg>
<svg class="ycs" style="left:263.1px;top:-0.1px;width:30.4px;height:30.4px" viewBox="0 0 30.4 30.4"><circle cx="15.2" cy="15.2" r="14.3" fill="#ffc000" stroke="#2c4590" stroke-width="0.9"/><text x="15.2" y="19.1" text-anchor="middle" font-family="Liberation Sans, sans-serif" font-weight="bold" font-size="10" fill="#141414" style="-webkit-text-stroke:0">4</text></svg>
<svg class="ycs" style="left:343.7px;top:2.2px;width:30.4px;height:30.4px" viewBox="0 0 30.4 30.4"><circle cx="15.2" cy="15.2" r="14.3" fill="#ffc000" stroke="#2c4590" stroke-width="0.9"/><text x="15.2" y="19.1" text-anchor="middle" font-family="Liberation Sans, sans-serif" font-weight="bold" font-size="10" fill="#141414" style="-webkit-text-stroke:0">5</text></svg>
<svg class="ycs" style="left:445.1px;top:-0.1px;width:30.4px;height:30.4px" viewBox="0 0 30.4 30.4"><circle cx="15.2" cy="15.2" r="14.3" fill="#ffc000" stroke="#2c4590" stroke-width="0.9"/><text x="15.2" y="19.1" text-anchor="middle" font-family="Liberation Sans, sans-serif" font-weight="bold" font-size="10" fill="#141414" style="-webkit-text-stroke:0">6</text></svg>
<svg class="ycs" style="left:578.8px;top:2.2px;width:30.4px;height:30.4px" viewBox="0 0 30.4 30.4"><circle cx="15.2" cy="15.2" r="14.3" fill="#ffc000" stroke="#2c4590" stroke-width="0.9"/><text x="15.2" y="19.1" text-anchor="middle" font-family="Liberation Sans, sans-serif" font-weight="bold" font-size="10" fill="#141414" style="-webkit-text-stroke:0">7</text></svg>
<svg class="ycs" style="left:126.9px;top:46px;width:30.6px;height:30.6px" viewBox="0 0 30.6 30.6"><circle cx="15.3" cy="15.3" r="14.4" fill="#ffc000" stroke="#2c4590" stroke-width="0.9"/><text x="15.3" y="19.2" text-anchor="middle" font-family="Liberation Sans, sans-serif" font-weight="bold" font-size="10" fill="#141414" style="-webkit-text-stroke:0">8</text></svg>
<svg class="ycs" style="left:345.2px;top:46px;width:30.6px;height:30.6px" viewBox="0 0 30.6 30.6"><circle cx="15.3" cy="15.3" r="14.4" fill="#ffc000" stroke="#2c4590" stroke-width="0.9"/><text x="15.3" y="19.2" text-anchor="middle" font-family="Liberation Sans, sans-serif" font-weight="bold" font-size="10" fill="#141414" style="-webkit-text-stroke:0">9</text></svg>
<svg class="ycs" style="left:530px;top:43.1px;width:37px;height:37px" viewBox="0 0 37 37"><circle cx="18.5" cy="18.5" r="17.6" fill="#ffc000" stroke="#2c4590" stroke-width="0.9"/><text x="18.5" y="21.8" text-anchor="middle" font-family="Liberation Sans, sans-serif" font-weight="bold" font-size="9.9" fill="#141414" style="-webkit-text-stroke:0">10</text></svg>
<svg class="ycs" style="left:622px;top:46.7px;width:37.2px;height:37.2px" viewBox="0 0 37.2 37.2"><circle cx="18.6" cy="18.6" r="17.7" fill="#ffc000" stroke="#2c4590" stroke-width="0.9"/><text x="18.6" y="21.9" text-anchor="middle" font-family="Liberation Sans, sans-serif" font-weight="bold" font-size="9.9" fill="#141414" style="-webkit-text-stroke:0">11</text></svg>
</body></html>
